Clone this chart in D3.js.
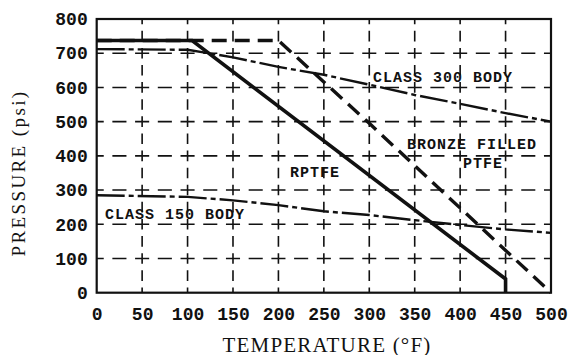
<!DOCTYPE html>
<html>
<head>
<meta charset="utf-8">
<script src="https://cdn.jsdelivr.net/npm/d3@7/dist/d3.min.js"></script>
<style>
  html, body { margin: 0; padding: 0; background: #fff; }
  svg { display: block; }
</style>
</head>
<body>
<svg id="chart" width="570" height="355"></svg>
<script>
// Temperature ticks (°F) and pressure ticks (psi)
const tempTicks = [0, 50, 100, 150, 200, 250, 300, 350, 400, 450, 500];
const pressTicks = [0, 100, 200, 300, 400, 500, 600, 700, 800];

// Pressure–temperature ratings
const rptfeTemp  = [0, 105, 450, 450];
const rptfePress = [737, 737, 40, 0];

const bronzeTemp  = [0, 200, 300, 500];
const bronzePress = [737, 737, 495, 0];

const class300Temp  = [0, 100, 150, 200, 250, 300, 350, 400, 450, 500];
const class300Press = [712, 710, 688, 660, 637, 608, 578, 552, 525, 500];

const class150Temp  = [0, 100, 150, 200, 250, 300, 350, 400, 450, 500];
const class150Press = [285, 280, 270, 256, 238, 227, 212, 198, 185, 175];

const svg = d3.select("#chart");
const x = d3.scaleLinear().domain([0, 500]).range([96.7, 551]);
const y = d3.scaleLinear().domain([0, 800]).range([292.7, 19]);

// Dashed grid: each interval between intersections is drawn on its own so
// the dashes meet across every intersection and form small crosses.
const grid = svg.append("g").attr("stroke", "#111").attr("stroke-width", 1.6).attr("fill", "none");
function dashedSegment(x1, y1, x2, y2) {
  const L = Math.hypot(x2 - x1, y2 - y1);
  const n = Math.max(1, Math.round(L / 20));
  const period = L / n;
  const dash = period * 0.62;
  grid.append("line")
    .attr("x1", x1).attr("y1", y1).attr("x2", x2).attr("y2", y2)
    .attr("stroke-dasharray", `${dash},${period - dash}`)
    .attr("stroke-dashoffset", dash / 2);
}
const innerT = tempTicks.slice(1, -1);
const innerP = pressTicks.slice(1, -1);
innerT.forEach(t => {
  for (let i = 0; i < pressTicks.length - 1; i++)
    dashedSegment(x(t), y(pressTicks[i]), x(t), y(pressTicks[i + 1]));
});
innerP.forEach(p => {
  for (let i = 0; i < tempTicks.length - 1; i++)
    dashedSegment(x(tempTicks[i]), y(p), x(tempTicks[i + 1]), y(p));
});

// Rating curves
const line = d3.line().x(d => x(d[0])).y(d => y(d[1]));
const zip = (a, b) => a.map((v, i) => [v, b[i]]);

svg.append("path").datum(zip(class300Temp, class300Press))
  .attr("d", line).attr("fill", "none").attr("stroke", "#111")
  .attr("stroke-width", 2.4).attr("stroke-dasharray", "28,4,5,4");

svg.append("path").datum(zip(class150Temp, class150Press))
  .attr("d", line).attr("fill", "none").attr("stroke", "#111")
  .attr("stroke-width", 2.4).attr("stroke-dasharray", "28,4,5,4");

svg.append("path").datum(zip(bronzeTemp, bronzePress))
  .attr("d", line).attr("fill", "none").attr("stroke", "#111")
  .attr("stroke-width", 3.4).attr("stroke-dasharray", "15,8");

svg.append("path").datum(zip(rptfeTemp, rptfePress))
  .attr("d", line).attr("fill", "none").attr("stroke", "#111")
  .attr("stroke-width", 3.6).attr("stroke-linejoin", "miter");

// Plot frame
svg.append("rect")
  .attr("x", x(0)).attr("y", y(800))
  .attr("width", x(500) - x(0)).attr("height", y(0) - y(800))
  .attr("fill", "none").attr("stroke", "#111").attr("stroke-width", 2.2);

// Axes (labels only, the frame carries the lines)
const tickFont = g => g.selectAll("text")
  .attr("font-family", "'Liberation Mono', 'DejaVu Sans Mono', monospace")
  .attr("font-weight", "bold").attr("font-size", 18).attr("fill", "#111");

const xAxis = svg.append("g").attr("transform", `translate(0,${y(0)})`)
  .call(d3.axisBottom(x).tickValues(tempTicks).tickSize(0).tickPadding(15).tickFormat(d3.format("d")));
xAxis.select(".domain").remove();
tickFont(xAxis);

const yAxis = svg.append("g").attr("transform", `translate(${x(0)},0)`)
  .call(d3.axisLeft(y).tickValues(pressTicks).tickSize(0).tickPadding(9).tickFormat(d3.format("d")));
yAxis.select(".domain").remove();
tickFont(yAxis);

// Axis titles
svg.append("text")
  .attr("x", 327).attr("y", 351.5).attr("text-anchor", "middle")
  .attr("font-family", "'Liberation Serif', 'DejaVu Serif', serif")
  .attr("font-size", 21).attr("letter-spacing", 1.2).attr("fill", "#111")
  .text("TEMPERATURE (°F)");

svg.append("text")
  .attr("transform", "translate(25,173) rotate(-90)")
  .attr("text-anchor", "middle")
  .attr("font-family", "'Liberation Serif', 'DejaVu Serif', serif")
  .attr("font-size", 19).attr("letter-spacing", 2.4).attr("fill", "#111")
  .text("PRESSURE (psi)");

// Curve labels
const labelFont = sel => sel
  .attr("font-family", "'Liberation Mono', 'DejaVu Sans Mono', monospace")
  .attr("font-weight", "bold").attr("font-size", 15)
  .attr("letter-spacing", 1).attr("fill", "#111");

labelFont(svg.append("text").attr("x", 373).attr("y", 81.5).text("CLASS 300 BODY"));
labelFont(svg.append("text").attr("x", 407).attr("y", 148.5).text("BRONZE FILLED"));
labelFont(svg.append("text").attr("x", 463).attr("y", 168).text("PTFE"));
labelFont(svg.append("text").attr("x", 290).attr("y", 177).text("RPTFE"));
labelFont(svg.append("text").attr("x", 105).attr("y", 219).text("CLASS 150 BODY"));
</script>
</body>
</html>
